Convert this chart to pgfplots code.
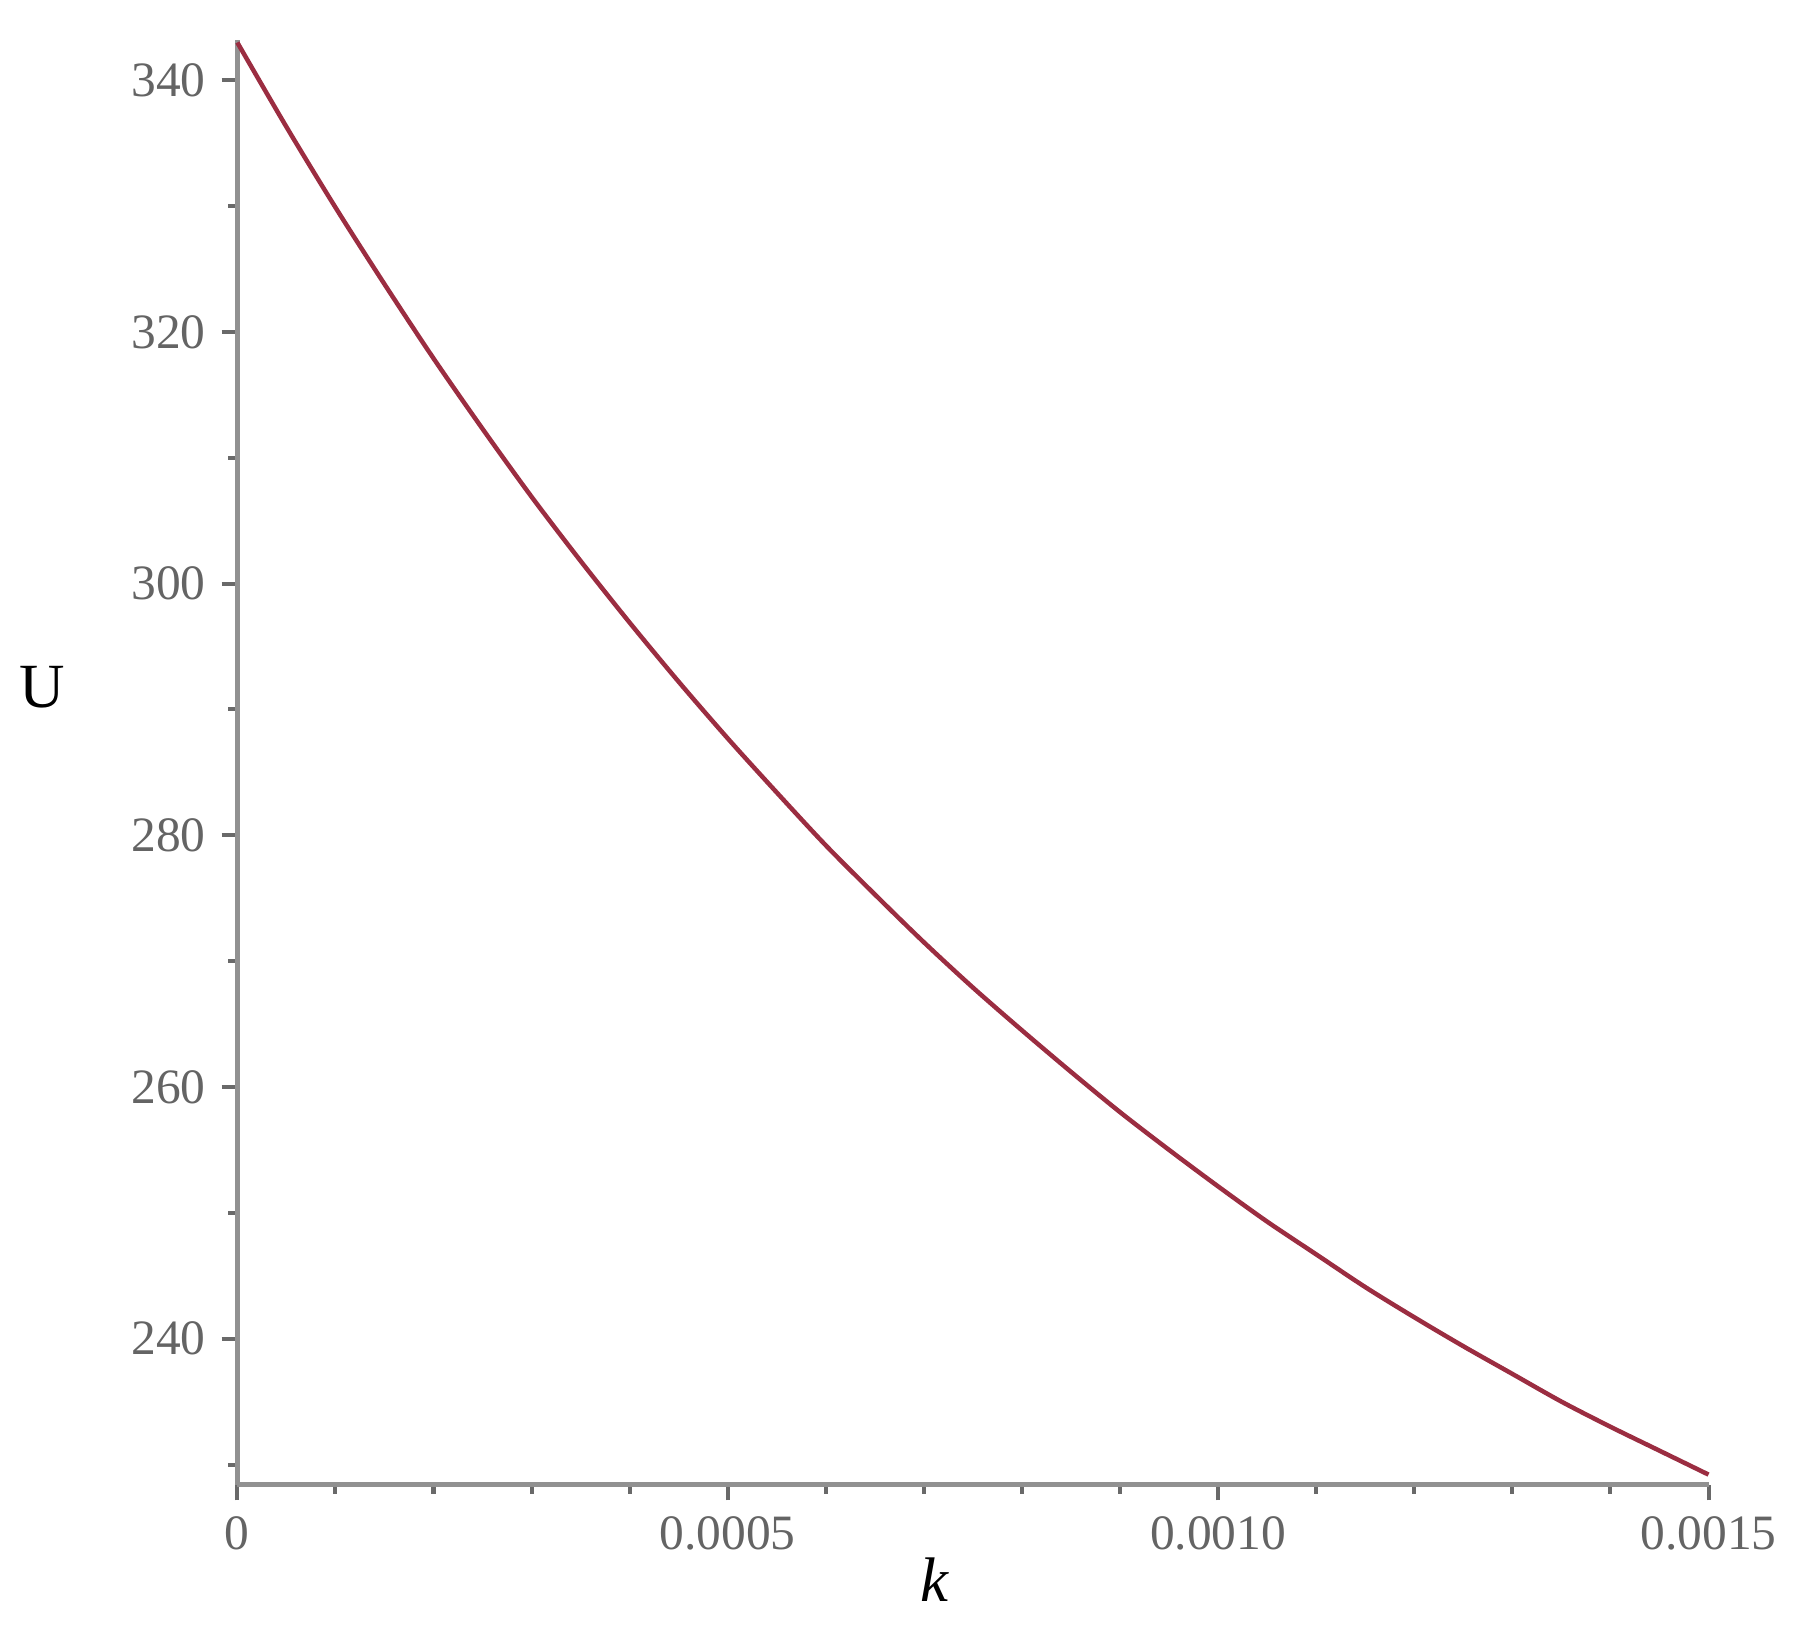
\documentclass[border=0pt]{standalone}
\usepackage{fontspec}
\setmainfont{Liberation Serif}
\usepackage{pgfplots}
\pgfplotsset{compat=1.18}

\definecolor{curvered}{RGB}{155,45,65}
\definecolor{axgray}{RGB}{145,145,145}
\definecolor{tickgray}{RGB}{105,105,105}
\definecolor{labgray}{RGB}{100,100,100}

\begin{document}
\begin{tikzpicture}
\path[use as bounding box] (-52.8pt,-35.7pt) rectangle (347.2pt,330.3pt);
\begin{axis}[
  scale only axis,
  width=327.3pt, height=321.4pt,
  xmin=0, xmax=0.0015,
  ymin=228.4, ymax=343.2,
  axis lines=left,
  axis line style={-, draw=axgray, line width=1.2pt},
  tick align=outside,
  tick style={draw=tickgray, line width=0.9pt},
  major tick length=3.5pt,
  minor tick length=2pt,
  scaled x ticks=false,
  xtick={0,0.0005,0.001,0.0015},
  xticklabels={0,0.0005,0.0010,0.0015},
  minor xtick={0.0001,0.0002,0.0003,0.0004,0.0006,0.0007,0.0008,0.0009,0.0011,0.0012,0.0013,0.0014},
  ytick={240,260,280,300,320,340},
  minor ytick={230,250,270,290,310,330},
  /pgf/number format/assume math mode=true,
  ticklabel style={font=\fontsize{11}{13}\selectfont, text=labgray},
  every axis x label/.style={at={(axis description cs:0.474,0)}, anchor=center, yshift=-21.2pt},
  every axis y label/.style={at={(axis description cs:0,0.552)}, anchor=center, xshift=-43.4pt},
  xlabel={\fontsize{14}{16}\selectfont\textit{k}},
  ylabel={\fontsize{14}{16}\selectfont U},
  clip=false,
]
\addplot[curvered, line width=1pt, no marks, smooth] table {
k U
0.00000 343.0
0.00005 336.3
0.00010 329.9
0.00015 323.8
0.00020 317.9
0.00025 312.3
0.00030 306.9
0.00035 301.8
0.00040 296.9
0.00045 292.2
0.00050 287.7
0.00055 283.4
0.00060 279.2
0.00065 275.3
0.00070 271.5
0.00075 267.9
0.00080 264.5
0.00085 261.2
0.00090 258.0
0.00095 255.0
0.00100 252.1
0.00105 249.3
0.00110 246.7
0.00115 244.1
0.00120 241.7
0.00125 239.4
0.00130 237.2
0.00135 235.0
0.00140 233.0
0.00145 231.1
0.00150 229.2
};
\end{axis}
\end{tikzpicture}
\end{document}
